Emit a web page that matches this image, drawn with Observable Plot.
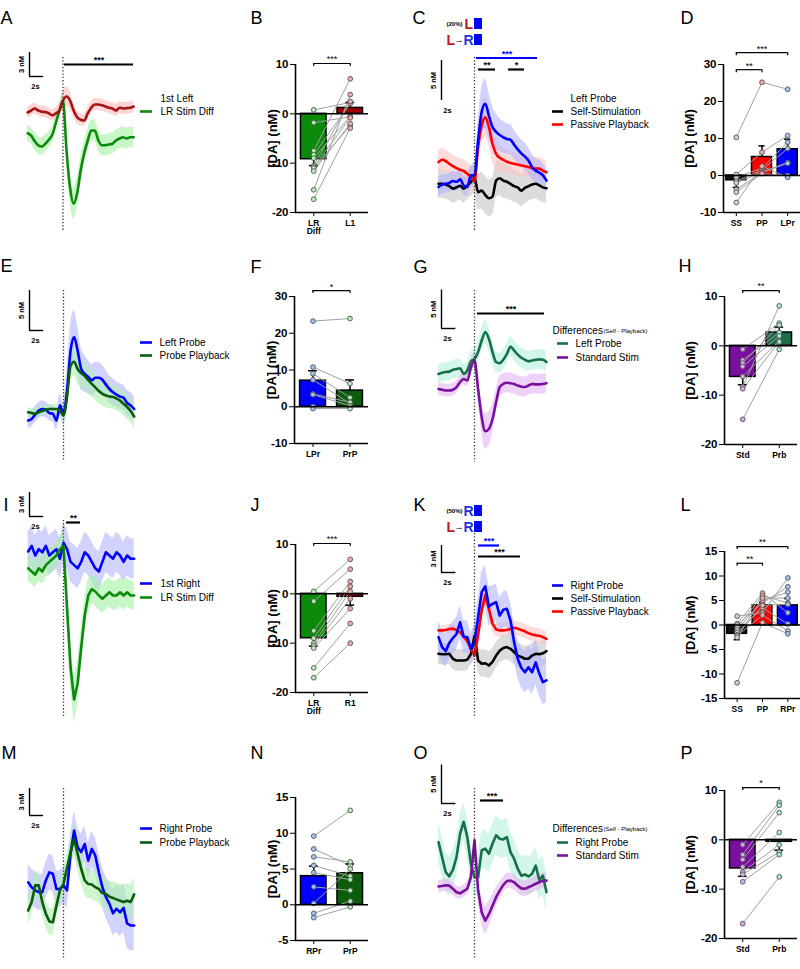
<!DOCTYPE html>
<html><head><meta charset="utf-8">
<script src="https://cdn.jsdelivr.net/npm/d3@7"></script>
<script src="https://cdn.jsdelivr.net/npm/@observablehq/plot@0.6"></script>
<style>
html,body{margin:0;padding:0;background:#fff;}
#fig{position:relative;width:800px;height:969px;overflow:hidden;background:#fff;}
#fig svg{position:absolute;left:0;top:0;background:transparent !important;overflow:visible;}
#fig svg.bar g[aria-label^="y-axis"] text{font-size:11.5px;font-weight:bold;}
#fig svg.bar g[aria-label^="x-axis"] text{font-size:8.5px;font-weight:bold;}
</style></head><body><div id="fig"></div><script>
const FONT = '"Liberation Sans", Arial, Helvetica, sans-serif';

// ---------- time axis (s) ----------
const T = [-5,-4.5,-4,-3.5,-3,-2.5,-2,-1.5,-1,-0.5,0,0.5,1,1.5,2,2.5,3,3.5,4,4.5,5,5.5,6,6.5,7,7.5,8,8.5,9,9.5,10];

// ---------- trace data (nM) ----------
const A_firstLeft     = [0,0.25,0.5,0.25,0.1,0.05,-0.1,-0.35,-0.1,0.25,1.5,2.0,1.5,0.25,-0.6,-0.9,-1.0,-0.1,0.6,1.0,1.0,0.9,0.75,0.6,0.5,0.25,0.6,0.5,0.55,0.6,0.75];
const A_firstLeft_sem = [0.7,0.7,0.7,0.7,0.7,0.7,0.7,0.7,0.75,0.85,1.1,1.25,1.1,0.9,0.8,0.75,0.75,0.75,0.75,0.75,0.75,0.75,0.75,0.75,0.75,0.75,0.75,0.75,0.75,0.75,0.75];
const A_lrDiff        = [-2.6,-2.9,-3.6,-4.1,-4.25,-3.9,-3.4,-2.75,-1.25,0.25,1.5,-4.75,-9.4,-11.4,-10.1,-7.25,-5.1,-3.5,-2.25,-2.25,-3.5,-4.1,-4.1,-4.0,-3.9,-3.5,-3.25,-3.1,-3.25,-3.1,-3.1];
const A_lrDiff_sem    = [1.0,1.0,1.1,1.1,1.1,1.1,1.0,1.0,1.0,1.0,1.1,1.4,1.7,1.9,1.9,1.7,1.5,1.4,1.3,1.3,1.3,1.3,1.3,1.3,1.3,1.3,1.3,1.3,1.3,1.3,1.3];

const C_self        = [0,0,-0.1,-0.3,-0.6,-0.45,-0.25,-0.6,-0.2,0.2,0.8,-1.05,-0.85,-1.4,-1.8,-1.6,0.4,0.7,0.4,0.25,0,-0.3,-0.45,-0.85,-0.5,-0.3,-0.1,0,-0.2,-0.45,-0.55];
const C_self_sem    = [1.8,1.8,1.8,1.8,1.8,1.8,1.8,1.8,1.8,1.8,2.0,2.2,2.3,2.3,2.3,2.3,2.2,2.2,2.2,2.1,2.1,2.0,2.0,2.0,2.0,1.9,1.9,1.9,1.9,1.9,1.9];
const C_passive     = [2.7,3.0,2.85,2.5,2.2,1.95,1.75,1.6,1.25,0.85,0.3,4.6,7.3,8.3,7.1,5.0,3.75,3.25,3.0,2.75,2.6,2.5,2.4,2.3,2.2,2.1,1.95,1.9,1.9,1.65,1.45];
const C_passive_sem = [1.4,1.4,1.4,1.4,1.4,1.4,1.4,1.4,1.4,1.4,1.4,2.0,2.4,2.5,2.4,2.2,2.0,1.8,1.6,1.5,1.5,1.4,1.4,1.4,1.4,1.4,1.4,1.4,1.4,1.4,1.4];
const C_probe       = [-0.4,-0.1,0,0.1,0.35,0.25,0.55,-0.2,-0.4,1.05,1.05,5.4,9.0,10.0,8.5,7.1,6.5,6.1,5.8,5.6,5.5,4.9,4.3,3.8,3.4,2.9,2.1,1.65,1.4,1.05,0.4];
const C_probe_sem   = [1.2,1.2,1.2,1.2,1.2,1.2,1.2,1.2,1.2,1.2,1.3,2.5,3.0,3.1,2.9,2.6,2.3,2.1,2.0,1.9,1.9,1.8,1.8,1.7,1.7,1.6,1.6,1.5,1.5,1.5,1.4];

const E_probe        = [-0.85,-0.65,-0.1,0.4,0.6,0.5,0.1,0,-0.85,1.05,0,2.9,7.9,9.6,7.9,5.6,5.0,4.6,4.2,4.5,4.5,4.25,3.65,3.1,2.7,2.4,2.15,2.0,1.35,1.05,0.6];
const E_probe_sem    = [1.0,1.0,1.0,1.0,1.0,1.0,1.0,1.0,1.2,1.4,1.4,2.5,3.2,3.3,3.0,2.6,2.3,2.1,2.0,1.9,1.9,1.8,1.8,1.7,1.7,1.6,1.6,1.6,1.6,1.6,1.6];
const E_playback     = [0.2,0.1,0,0.2,0.35,0.5,0.6,0.6,0.6,0.4,-0.2,2.1,6.0,6.5,5.6,5.1,4.7,4.2,3.75,3.3,2.85,2.5,2.3,2.15,2.1,1.9,1.65,1.25,0.85,0.35,-0.35];
const E_playback_sem = [0.6,0.6,0.6,0.6,0.6,0.6,0.6,0.6,0.6,0.6,0.8,1.4,1.8,1.8,1.8,1.8,1.7,1.7,1.6,1.6,1.6,1.5,1.5,1.5,1.5,1.5,1.5,1.5,1.5,1.5,1.5];

const G_probe     = [0.85,1.0,1.1,1.15,1.4,1.5,1.6,0.85,1.3,2.5,2.8,3.7,5.2,6.3,5.4,3.7,2.4,2.25,2.7,3.45,4.4,3.9,3.35,2.95,2.7,2.5,2.6,2.7,2.75,2.7,2.4];
const G_probe_sem = [1.2,1.2,1.2,1.2,1.2,1.2,1.2,1.2,1.2,1.2,1.3,1.4,1.5,1.6,1.5,1.4,1.3,1.3,1.3,1.3,1.3,1.3,1.3,1.3,1.3,1.3,1.3,1.3,1.3,1.3,1.3];
const G_std       = [-1.1,-1.2,-1.3,-1.3,-1.2,-0.85,-0.2,0.2,0,1.7,2.6,-1.1,-4.75,-6.6,-6.3,-5.0,-2.8,-0.85,-0.45,-0.3,-0.35,-0.45,-0.65,-0.8,-0.85,-0.65,-0.45,-0.5,-0.5,-0.45,-0.35];
const G_std_sem   = [0.8,0.8,0.8,0.8,0.8,0.8,0.8,0.8,0.8,0.9,1.0,1.4,2.0,2.3,2.2,1.9,1.6,1.4,1.3,1.3,1.3,1.3,1.3,1.3,1.3,1.3,1.3,1.3,1.3,1.3,1.3];

const I_right      = [0.5,1.2,0,0.8,0.4,1.2,0,0.4,0.8,-0.4,1.6,0.8,-0.8,-1.2,-1.6,-0.8,0.4,0,-0.8,-1.6,-2,-0.8,0.4,0,-0.4,0.4,0,-0.8,0,-0.4,-0.4];
const I_right_sem  = [2.5,2.5,2.5,2.5,2.5,2.5,2.5,2.5,2.5,2.5,2.5,2.5,2.5,2.5,2.5,2.5,2.5,2.5,2.5,2.5,2.5,2.5,2.5,2.5,2.5,2.5,2.5,2.5,2.5,2.5,2.5];
const I_lrDiff     = [-1.6,-2,-2.4,-1.6,-2,-1.2,-0.8,-0.4,0,0.8,1.2,-6.5,-14,-18,-16,-11.5,-7.5,-5,-4.2,-4.5,-5,-5.4,-5,-4.6,-5,-5,-4.6,-5,-4.6,-5,-5];
const I_lrDiff_sem = [1.6,1.6,1.6,1.6,1.6,1.6,1.6,1.6,1.6,1.6,1.8,2.2,2.6,2.8,2.8,2.5,2.2,2.0,1.8,1.8,1.8,1.8,1.8,1.8,1.8,1.8,1.8,1.8,1.8,1.8,1.8];

const K_self        = [0,-0.05,-0.05,0,-0.55,-0.75,-0.75,-0.75,-0.65,-0.05,2.0,-0.75,-1.1,-1.05,-1.3,-0.9,-0.2,0.35,0.65,0.75,0.55,0.2,-0.2,-0.35,-0.55,-0.55,-0.2,0,-0.05,0.05,0.3];
const K_self_sem    = [1.2,1.2,1.2,1.2,1.2,1.2,1.2,1.2,1.2,1.2,1.3,1.4,1.5,1.5,1.5,1.5,1.4,1.4,1.4,1.4,1.4,1.4,1.4,1.4,1.4,1.4,1.4,1.4,1.4,1.4,1.4];
const K_passive     = [2.6,2.6,2.65,2.75,2.8,2.65,2.4,1.9,1.4,0.55,-0.2,2.05,4.8,6.5,5.0,3.35,2.7,2.6,2.6,2.65,2.75,2.9,2.8,2.65,2.5,2.3,2.15,2.05,2.0,1.85,1.65];
const K_passive_sem = [0.5,0.5,0.5,0.5,0.5,0.5,0.5,0.5,0.5,0.5,0.6,0.8,1.0,1.1,1.0,0.9,0.8,0.8,0.8,0.8,0.8,0.8,0.8,0.8,0.8,0.8,0.8,0.8,0.8,0.8,0.8];
const K_probe       = [1.85,0.75,0.3,1.2,1.75,2.2,3.5,1.9,1.85,0.55,1.3,4.05,6.85,7.5,5.25,5.55,5.75,4.25,4.9,5.0,3.7,1.3,-0.55,-1.55,-2.05,-1.5,-2.05,-0.95,-2.2,-3.15,-2.95];
const K_probe_sem   = [1.8,1.8,1.8,1.8,1.8,1.8,1.8,1.8,1.8,1.8,1.9,2.1,2.3,2.3,2.2,2.0,2.0,2.0,2.0,2.0,2.0,2.0,2.1,2.2,2.3,2.4,2.5,2.5,2.5,2.5,2.5];

const M_probe        = [0.55,0,-0.35,-0.55,-0.55,0.75,1.65,1.5,-0.2,-0.2,0.2,-0.35,3.7,6.3,4.45,3.9,4.8,2.95,4.25,3.5,1.65,0,-1.1,-1.85,-2.9,-2.4,-2.8,-2.3,-4.05,-4.25,-4.25];
const M_probe_sem    = [2.0,2.0,2.0,2.0,2.0,2.0,2.0,2.0,2.0,2.0,2.0,2.0,2.1,2.2,2.1,2.0,2.0,2.0,2.0,2.0,2.1,2.2,2.3,2.4,2.5,2.6,2.7,2.7,2.8,2.8,2.8];
const M_playback     = [-2.6,-1.65,0.2,0.2,-1.65,-2.95,-3.8,-3.9,-2.05,-0.3,0.35,2.2,3.9,5.35,3.7,2.05,0.75,0.35,0.3,0,-0.2,-0.65,-0.75,-1.05,-1.2,-1.35,-1.5,-1.65,-1.5,-1.65,-0.8];
const M_playback_sem = [1.5,1.5,1.5,1.5,1.5,1.5,1.5,1.5,1.5,1.5,1.5,1.6,1.7,1.8,1.7,1.6,1.6,1.6,1.6,1.6,1.6,1.6,1.7,1.7,1.8,1.8,1.8,1.9,1.9,1.9,1.9];

const O_probe     = [5.85,3.9,1.95,1.4,2.25,3.9,6.95,8.5,6.5,3.05,1.3,1.3,4.8,5.0,4.35,5.65,6.75,6.3,6.2,6.5,4.55,3.7,2.4,1.5,1.65,1.4,1.75,2.8,0.95,1.5,-0.65];
const O_probe_sem = [2.5,2.5,2.5,2.5,2.5,2.5,2.5,2.5,2.5,2.5,2.5,2.5,2.5,2.5,2.5,2.5,2.5,2.5,2.5,2.5,2.5,2.5,2.5,2.5,2.5,2.5,2.5,2.5,2.5,2.5,2.5];
const O_std       = [0.1,0.15,0.25,0.2,-0.2,-0.65,-0.8,-0.5,-0.2,1.3,6.1,-0.4,-3.25,-4.35,-3.5,-2.4,-1.3,-0.45,0.3,0.8,0.85,0.65,0.2,-0.15,-0.2,0,0.2,0.45,0.65,0.85,0.85];
const O_std_sem   = [0.8,0.8,0.8,0.8,0.8,0.8,0.8,0.8,0.8,0.9,1.0,1.3,1.7,1.8,1.7,1.5,1.3,1.1,1.0,1.0,1.0,1.0,1.0,1.0,1.0,1.0,1.0,1.0,1.0,1.0,1.0];

// ---------- bar data ----------
const B_cats = ["LR\nDiff","L1"];
const B_mean = [-9.2, 1.2];
const B_sem  = [1.3, 1.1];
const B_pts  = [[0.8,-1.8,-7.5,-8.3,-9.0,-10.5,-10.8,-11.0,-11.6,-15.4,-17.3],
                [2.3,-0.6,7.1,2.1,-0.5,2.5,-0.8,-2.4,-2.0,3.9,-2.9]];

const D_cats = ["SS","PP","LPr"];
const D_mean = [-1.3, 5.0, 7.1];
const D_sem  = [1.9, 3.0, 2.7];
const D_pts  = [[10.3,0.3,-0.5,-1.5,-2.0,-3.8,-4.5,-7.3],
                [25.2,6.3,2.0,1.5,1.0,0.8,0.5,2.5],
                [23.3,10.8,9.0,7.3,3.5,3.3,0.0,-0.5]];

const F_cats = ["LPr","PrP"];
const F_mean = [7.1, 4.4];
const F_sem  = [2.7, 2.9];
const F_pts  = [[23.3,10.8,9.0,7.3,3.5,3.3,0.0,-0.5],
                [24.0,6.3,2.5,0.9,1.2,0.3,-0.1,-0.5]];

const H_cats = ["Std","Prb"];
const H_mean = [-6.3, 2.7];
const H_sem  = [1.6, 1.1];
const H_pts  = [[-0.7,-2.9,-3.5,-4.2,-6.2,-8.3,-8.7,-14.9],
                [4.6,2.7,4.2,2.0,1.0,8.1,0.8,-0.7]];

const J_cats = ["LR\nDiff","R1"];
const J_mean = [-9.0, -0.6];
const J_sem  = [1.6, 1.7];
const J_pts  = [[0.5,-1.5,-7.5,-9.0,-10.0,-10.5,-11.0,-15.0,-17.0],
                [7.0,5.0,2.5,1.5,0.5,-1.0,-3.0,-6.0,-10.0]];

const L_cats = ["SS","PP","RPr"];
const L_mean = [-1.8, 4.0, 4.0];
const L_sem  = [1.2, 0.6, 1.4];
const L_pts  = [[1.8,0.3,0.0,-0.5,-1.0,-1.5,-2.0,-2.2,-2.5,-11.8],
                [2.5,6.5,4.5,6.0,5.0,3.5,4.0,2.0,5.5,0.5],
                [9.6,2.5,7.8,4.5,6.7,0.2,4.2,-1.2,5.5,-1.8]];

const N_cats = ["RPr","PrP"];
const N_mean = [4.0, 4.4];
const N_sem  = [1.4, 1.3];
const N_pts  = [[9.6,7.8,6.7,5.5,4.5,2.5,0.2,-1.2,-1.8],
                [13.2,5.5,6.0,4.0,3.5,2.0,5.0,0.5,-0.3]];

const P_cats = ["Std","Prb"];
const P_mean = [-5.8, -0.4];
const P_sem  = [1.6, 1.7];
const P_pts  = [[-1.0,-3.0,-4.0,-5.5,-6.5,-7.0,-8.5,-17.0],
                [7.6,7.0,5.5,1.5,-1.0,-2.5,-3.0,-7.5]];

// ---------- colours ----------
const COL = {
  blue:"#0000ff", blueBand:"#b4b4ff",
  red:"#ff0000", redBand:"#ffc4c4",
  black:"#000000", grayBand:"#c4c4c4",
  darkRed:"#a31515", darkRedBand:"#ffb8b8",
  green:"#0b8a0b", greenBand:"#a2f0a2",
  dkGreen:"#0b5d0b", dkGreenBand:"#aef0ae",
  teal:"#187048", tealBand:"#b4f0da",
  purple:"#7a0fa0", purpleBand:"#e4b4f2"
};

const fig = document.getElementById("fig");
function addPlot(opts, cls){
  const svg = Plot.plot({width:800, height:969, ...opts,
    style:{background:"transparent", fontFamily:FONT, fontSize:"10px", overflow:"visible"}});
  if (cls) svg.classList.add(cls);
  fig.appendChild(svg);
}

// ---------- trace panel ----------
function tracePanel(p){
  const tx = px => (px - p.xz)/p.kx;
  const vy = py => (p.y0 - py)/p.k;
  const rowsOf = s => T.map((t,i)=>({t, v:s.v[i], lo:s.v[i]-s.e[i], hi:s.v[i]+s.e[i]}));
  const marks = [];
  p.series.forEach(s => marks.push(Plot.areaY(rowsOf(s), {x:"t", y1:"lo", y2:"hi", fill:s.band, fillOpacity:0.6, curve:p.curve})));
  p.series.forEach(s => marks.push(Plot.lineY(rowsOf(s), {x:"t", y:"v", stroke:s.color, strokeWidth:2.6, curve:p.curve})));
  marks.push(Plot.ruleX([0], {y1:vy(p.dotted[0]), y2:vy(p.dotted[1]), stroke:"#333", strokeWidth:1.3, strokeDasharray:"1.3,2"}));
  const sb = p.scale;
  marks.push(Plot.ruleX([tx(sb.x)], {y1:vy(sb.yb), y2:vy(sb.yb)+sb.nM, stroke:"#000", strokeWidth:1.4}));
  if (sb.h) marks.push(Plot.ruleY([vy(sb.yb)], {x1:tx(sb.x), x2:tx(sb.x)+2, stroke:"#000", strokeWidth:1.4}));
  marks.push(Plot.text([sb.nM + " nM"], {x:tx(sb.x-8), y:vy(sb.yb)+sb.nM/2, text:d=>d, rotate:-90, fontSize:7.5, fontWeight:"bold"}));
  marks.push(Plot.text(["2s"], {x:tx(sb.x+6), y:vy(sb.yb+10), text:d=>d, fontSize:7.5, fontWeight:"bold"}));
  (p.sig||[]).forEach(g => {
    marks.push(Plot.ruleY([vy(g.y)], {x1:tx(g.x1), x2:tx(g.x2), stroke:g.color, strokeWidth:2.2}));
    marks.push(Plot.text([g.label], {x:tx((g.x1+g.x2)/2), y:vy(g.y), dy:-4, text:d=>d, fontSize:9, fill:g.color, fontWeight:"bold"}));
  });
  (p.rects||[]).forEach(r => marks.push(Plot.rect([r], {x1:tx(r.x1), x2:tx(r.x2), y1:vy(r.y2), y2:vy(r.y1), fill:r.color})));
  (p.swatches||[]).forEach(s => marks.push(Plot.ruleY([vy(s.y)], {x1:tx(s.x1), x2:tx(s.x2), stroke:s.color, strokeWidth:2.6})));
  (p.texts||[]).forEach(t => marks.push(Plot.text([t.text], {x:tx(t.x), y:vy(t.y), text:d=>d,
      textAnchor:t.anchor||"start", fontSize:t.fs||10, fontWeight:t.fw||"normal", fill:t.color||"#000"})));
  addPlot({
    x:{domain:[0,1], range:[p.xz, p.xz+p.kx], axis:null},
    y:{domain:[0,1], range:[p.y0, p.y0-p.k], axis:null},
    marks
  });
}

// ---------- bar panel ----------
function barPanel(p){
  const n = p.cats.length;
  const step = (p.right - p.axisX)/n;
  const kpx = (p.bottom - p.top)/(p.ydom[1]-p.ydom[0]);
  const ix = px => -0.5 + (px - p.axisX)/step;
  const vy = py => p.ydom[1] + (p.top - py)/kpx;
  const bars = p.mean.map((m,i)=>({i, m, e:m + Math.sign(m)*p.sem[i]}));
  const pts = [];
  p.pts.forEach((arr,c)=>arr.forEach((v,s)=>pts.push({c, s, v})));
  const drop = 3/kpx;
  const marks = [
    Plot.rectY(bars, {x1:d=>d.i-p.hw, x2:d=>d.i+p.hw, y1:0, y2:"m", fill:d=>p.colors[d.i], stroke:"#000", strokeWidth:1.5}),
    Plot.line(pts, {x:"c", y:"v", z:"s", stroke:"#a0a0a0", strokeWidth:1}),
    Plot.ruleX(bars, {x:"i", y1:"m", y2:"e", stroke:"#000", strokeWidth:1.5}),
    Plot.ruleY(bars, {y:"e", x1:d=>d.i-0.12, x2:d=>d.i+0.12, stroke:"#000", strokeWidth:1.5}),
    Plot.dot(pts, {x:"c", y:"v", r:2.4, fill:d=>p.dotFill[d.c], stroke:"#555", strokeWidth:0.9}),
    Plot.ruleY([0], {x1:-0.5, x2:n-0.5, stroke:"#000", strokeWidth:1.5}),
    Plot.ruleX([-0.5], {y1:p.ydom[0], y2:p.ydom[1], stroke:"#000", strokeWidth:1.6}),
    Plot.ruleY([p.ydom[0]], {x1:-0.5, x2:n-0.5, stroke:"#000", strokeWidth:1.6}),
    Plot.text(["[DA] (nM)"], {x:ix(p.labelX), y:(p.ydom[0]+p.ydom[1])/2, text:d=>d, rotate:-90, fontSize:13, fontWeight:"bold"}),
    Plot.text([p.letter.text], {x:ix(p.letter.x), y:vy(p.letter.y), text:d=>d, textAnchor:"start", fontSize:18, fontWeight:"normal"})
  ];
  p.sig.forEach(g => {
    marks.push(Plot.ruleY([g.y], {x1:g.i1, x2:g.i2, stroke:"#000", strokeWidth:1.2}));
    marks.push(Plot.ruleX([g.i1, g.i2], {y1:g.y, y2:g.y-drop, stroke:"#000", strokeWidth:1.2}));
    marks.push(Plot.text([g.label], {x:(g.i1+g.i2)/2, y:g.y, dy:-4, text:d=>d, fontSize:9, fontWeight:"normal"}));
  });
  addPlot({
    marginLeft:p.axisX, marginRight:800-p.right, marginTop:p.top, marginBottom:969-p.bottom,
    x:{domain:[-0.5, n-0.5], ticks:d3.range(n), tickFormat:i=>p.cats[i], tickSize:4, tickPadding:3, label:null},
    y:{domain:p.ydom, ticks:p.yticks, tickFormat:d=>String(d), tickSize:5, tickPadding:2, label:null},
    color:{type:"identity"},
    marks
  }, "bar");
}

// ---------- panels ----------
const col1 = {xz:62.5, kx:7.07};
const col3 = {xz:474, kx:7.2};

tracePanel({...col1, y0:112, k:8, curve:"monotone-x", dotted:[57,230],
  series:[{v:A_lrDiff, e:A_lrDiff_sem, color:COL.green, band:COL.greenBand},
          {v:A_firstLeft, e:A_firstLeft_sem, color:COL.darkRed, band:COL.darkRedBand}],
  scale:{x:29, yb:76, nM:3, h:true},
  sig:[{x1:64, x2:133, y:64, label:"***", color:"#000"}],
  swatches:[{x1:140, x2:152, y:111, color:COL.green}],
  texts:[{x:0, y:18, text:"A", fs:18}, {x:160, y:98, text:"1st Left"}, {x:160, y:111, text:"LR Stim Diff"}]
});
barPanel({cats:B_cats, mean:B_mean, sem:B_sem, pts:B_pts, axisX:295, right:368, top:64, bottom:212,
  ydom:[-20,10], yticks:[-20,-10,0,10], hw:0.35, labelX:272,
  colors:[COL.green, "#a00000"], dotFill:["#b4ecb4","#f2a8a8"],
  letter:{x:250, y:18, text:"B"}, sig:[{i1:0, i2:1, y:10.2, label:"***"}]});

tracePanel({...col3, y0:183.3, k:8, curve:"monotone-x", dotted:[57,230],
  series:[{v:C_self, e:C_self_sem, color:COL.black, band:COL.grayBand},
          {v:C_passive, e:C_passive_sem, color:COL.red, band:COL.redBand},
          {v:C_probe, e:C_probe_sem, color:COL.blue, band:COL.blueBand}],
  scale:{x:441, yb:100, nM:5, h:false},
  sig:[{x1:476, x2:537, y:57.5, label:"***", color:COL.blue},
       {x1:478, x2:495, y:69, label:"**", color:"#000"},
       {x1:508, x2:524, y:69, label:"*", color:"#000"}],
  rects:[{x1:474, x2:482, y1:18, y2:29, color:COL.blue}, {x1:474, x2:482, y1:34, y2:45, color:COL.blue}],
  swatches:[{x1:552, x2:563, y:111, color:COL.black}, {x1:552, x2:563, y:124, color:COL.red}],
  texts:[{x:412, y:18, text:"C", fs:18},
         {x:462, y:24, text:"(20%)", fs:6, fw:"bold", anchor:"end"},
         {x:464, y:24, text:"L", fs:14, fw:"bold", color:"#c0161b"},
         {x:446, y:40, text:"L", fs:14, fw:"bold", color:"#c0161b"},
         {x:454, y:40, text:"→", fs:9},
         {x:463, y:40, text:"R", fs:14, fw:"bold", color:"#1f35d8"},
         {x:570, y:98, text:"Left Probe"}, {x:570, y:111, text:"Self-Stimulation"}, {x:570, y:124, text:"Passive Playback"}]
});
barPanel({cats:D_cats, mean:D_mean, sem:D_sem, pts:D_pts, axisX:723, right:800, top:64, bottom:212,
  ydom:[-10,30], yticks:[-10,0,10,20,30], hw:0.39, labelX:689,
  colors:["#111111", COL.red, COL.blue], dotFill:["#d0d0d0","#f4a6a6","#9fc3f0"],
  letter:{x:680, y:18, text:"D"}, sig:[{i1:0, i2:2, y:33.2, label:"***"}, {i1:0, i2:1, y:28.6, label:"**"}]});

tracePanel({...col1, xz:63, y0:413.3, k:8, curve:"monotone-x", dotted:[290,460],
  series:[{v:E_probe, e:E_probe_sem, color:COL.blue, band:COL.blueBand},
          {v:E_playback, e:E_playback_sem, color:COL.dkGreen, band:COL.dkGreenBand}],
  scale:{x:29, yb:330, nM:5, h:true},
  swatches:[{x1:140, x2:152, y:342, color:COL.blue}, {x1:140, x2:152, y:355, color:COL.dkGreen}],
  texts:[{x:0, y:266, text:"E", fs:18}, {x:159, y:342, text:"Left Probe"}, {x:159, y:355, text:"Probe Playback"}]
});
barPanel({cats:F_cats, mean:F_mean, sem:F_sem, pts:F_pts, axisX:294, right:368, top:296, bottom:443,
  ydom:[-10,30], yticks:[-10,0,10,20,30], hw:0.35, labelX:271,
  colors:[COL.blue, COL.dkGreen], dotFill:["#9fc3f0","#b4ecb4"],
  letter:{x:250, y:267, text:"F"}, sig:[{i1:0, i2:1, y:31.6, label:"*"}]});

tracePanel({...col3, y0:380, k:7.7, curve:"monotone-x", dotted:[290,462],
  series:[{v:G_probe, e:G_probe_sem, color:COL.teal, band:COL.tealBand},
          {v:G_std, e:G_std_sem, color:COL.purple, band:COL.purpleBand}],
  scale:{x:441, yb:328, nM:5, h:true},
  sig:[{x1:477, x2:544, y:313, label:"***", color:"#000"}],
  swatches:[{x1:557, x2:568, y:343, color:COL.teal}, {x1:557, x2:568, y:357, color:COL.purple}],
  texts:[{x:413, y:267, text:"G", fs:18}, {x:552, y:330, text:"Differences"},
         {x:603, y:331, text:"(Self - Playback)", fs:6},
         {x:575, y:343, text:"Left Probe"}, {x:575, y:357, text:"Standard Stim"}]
});
barPanel({cats:H_cats, mean:H_mean, sem:H_sem, pts:H_pts, axisX:724, right:797, top:296, bottom:444,
  ydom:[-20,10], yticks:[-20,-10,0,10], hw:0.35, labelX:690,
  colors:[COL.purple, "#1d6b49"], dotFill:["#d6a8ea","#a8e8c8"],
  letter:{x:678, y:266, text:"H"}, sig:[{i1:0, i2:1, y:11.2, label:"**"}]});

tracePanel({...col1, xz:63, y0:555, k:8, curve:"linear", dotted:[520,718],
  series:[{v:I_right, e:I_right_sem, color:COL.blue, band:COL.blueBand},
          {v:I_lrDiff, e:I_lrDiff_sem, color:COL.green, band:COL.greenBand}],
  scale:{x:29, yb:516, nM:3, h:true},
  sig:[{x1:66, x2:80, y:522, label:"**", color:"#000"}],
  swatches:[{x1:140, x2:152, y:583, color:COL.blue}, {x1:140, x2:152, y:597, color:COL.green}],
  texts:[{x:3, y:505, text:"I", fs:18}, {x:160, y:583, text:"1st Right"}, {x:160, y:597, text:"LR Stim Diff"}]
});
barPanel({cats:J_cats, mean:J_mean, sem:J_sem, pts:J_pts, axisX:295, right:368, top:544, bottom:692,
  ydom:[-20,10], yticks:[-20,-10,0,10], hw:0.35, labelX:272,
  colors:[COL.green, "#a00000"], dotFill:["#b4ecb4","#f2a8a8"],
  letter:{x:250, y:505, text:"J"}, sig:[{i1:0, i2:1, y:10.2, label:"***"}]});

tracePanel({...col3, y0:653.3, k:9, curve:"linear", dotted:[533,717],
  series:[{v:K_self, e:K_self_sem, color:COL.black, band:COL.grayBand},
          {v:K_passive, e:K_passive_sem, color:COL.red, band:COL.redBand},
          {v:K_probe, e:K_probe_sem, color:COL.blue, band:COL.blueBand}],
  scale:{x:441, yb:572, nM:3, h:true},
  sig:[{x1:478, x2:499, y:545, label:"***", color:COL.blue}, {x1:478, x2:520, y:556, label:"***", color:"#000"}],
  rects:[{x1:474, x2:482, y1:505, y2:516, color:COL.blue}, {x1:474, x2:482, y1:521, y2:532, color:COL.blue}],
  swatches:[{x1:552, x2:563, y:585, color:COL.blue}, {x1:552, x2:563, y:598, color:COL.black}, {x1:552, x2:563, y:611, color:COL.red}],
  texts:[{x:413, y:505, text:"K", fs:18},
         {x:462, y:511, text:"(50%)", fs:6, fw:"bold", anchor:"end"},
         {x:463, y:511, text:"R", fs:14, fw:"bold", color:"#1f35d8"},
         {x:446, y:527, text:"L", fs:14, fw:"bold", color:"#c0161b"},
         {x:454, y:527, text:"→", fs:9},
         {x:463, y:527, text:"R", fs:14, fw:"bold", color:"#1f35d8"},
         {x:570, y:585, text:"Right Probe"}, {x:570, y:598, text:"Self-Stimulation"}, {x:570, y:611, text:"Passive Playback"}]
});
barPanel({cats:L_cats, mean:L_mean, sem:L_sem, pts:L_pts, axisX:724, right:800, top:551, bottom:698,
  ydom:[-15,15], yticks:[-15,-10,-5,0,5,10,15], hw:0.39, labelX:690,
  colors:["#111111", COL.red, COL.blue], dotFill:["#d0d0d0","#f4a6a6","#9fc3f0"],
  letter:{x:680, y:505, text:"L"}, sig:[{i1:0, i2:2, y:16.0, label:"**"}, {i1:0, i2:1, y:12.6, label:"**"}]});

tracePanel({...col1, xz:63, y0:886.7, k:9, curve:"linear", dotted:[788,958],
  series:[{v:M_probe, e:M_probe_sem, color:COL.blue, band:COL.blueBand},
          {v:M_playback, e:M_playback_sem, color:COL.dkGreen, band:COL.dkGreenBand}],
  scale:{x:29, yb:815, nM:3, h:true},
  swatches:[{x1:140, x2:152, y:828, color:COL.blue}, {x1:140, x2:152, y:842, color:COL.dkGreen}],
  texts:[{x:1, y:753, text:"M", fs:18}, {x:159, y:828, text:"Right Probe"}, {x:159, y:842, text:"Probe Playback"}]
});
barPanel({cats:N_cats, mean:N_mean, sem:N_sem, pts:N_pts, axisX:295, right:368, top:797, bottom:940,
  ydom:[-5,15], yticks:[-5,0,5,10,15], hw:0.35, labelX:272,
  colors:[COL.blue, COL.dkGreen], dotFill:["#9fc3f0","#b4ecb4"],
  letter:{x:250, y:753, text:"N"}, sig:[]});

tracePanel({...col3, y0:886.7, k:7.7, curve:"linear", dotted:[788,958],
  series:[{v:O_probe, e:O_probe_sem, color:COL.teal, band:COL.tealBand},
          {v:O_std, e:O_std_sem, color:COL.purple, band:COL.purpleBand}],
  scale:{x:441, yb:803, nM:5, h:true},
  sig:[{x1:480, x2:503, y:800, label:"***", color:"#000"}],
  swatches:[{x1:557, x2:568, y:842, color:COL.teal}, {x1:557, x2:568, y:855, color:COL.purple}],
  texts:[{x:413, y:753, text:"O", fs:18}, {x:552, y:828, text:"Differences"},
         {x:603, y:829, text:"(Self - Playback)", fs:6},
         {x:575, y:842, text:"Right Probe"}, {x:575, y:855, text:"Standard Stim"}]
});
barPanel({cats:P_cats, mean:P_mean, sem:P_sem, pts:P_pts, axisX:724, right:797, top:790, bottom:938,
  ydom:[-20,10], yticks:[-20,-10,0,10], hw:0.35, labelX:690,
  colors:[COL.purple, "#1d6b49"], dotFill:["#d6a8ea","#a8e8c8"],
  letter:{x:680, y:753, text:"P"}, sig:[{i1:0, i2:1, y:10.6, label:"*"}]});
</script></body></html>
